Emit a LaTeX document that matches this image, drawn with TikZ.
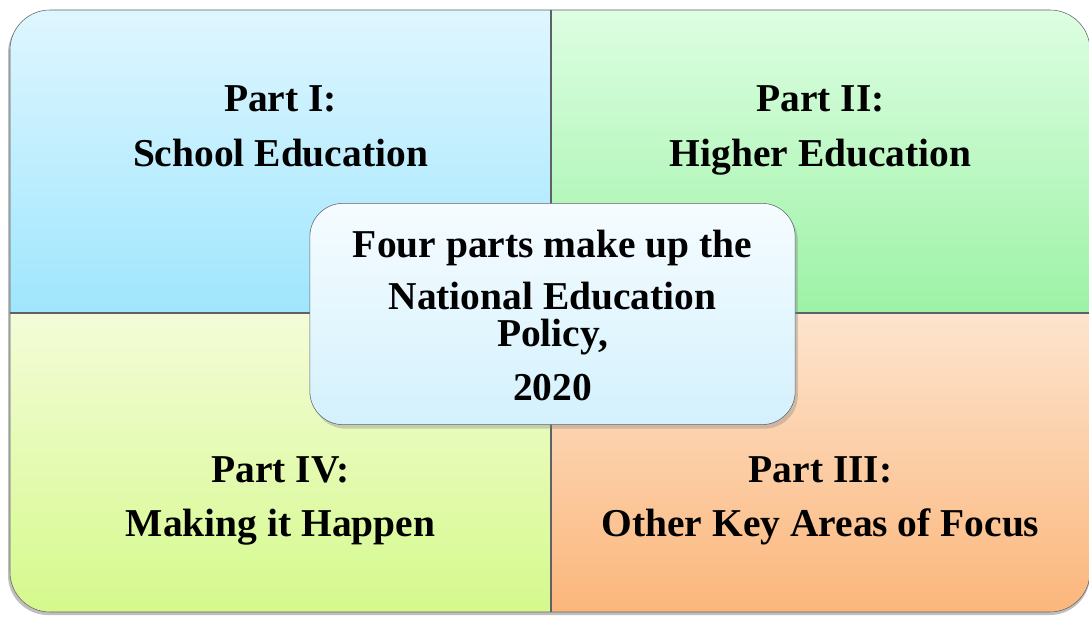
\documentclass[tikz,border=0pt]{standalone}
\usepackage{fontspec}
\setmainfont{Liberation Serif}
\usetikzlibrary{shadows}

\definecolor{schoolTop}{HTML}{DFF6FF}
\definecolor{schoolBot}{HTML}{9FE6FD}
\definecolor{higherTop}{HTML}{DDFEE2}
\definecolor{higherBot}{HTML}{9DF2A6}
\definecolor{makingTop}{HTML}{F4FCD8}
\definecolor{makingBot}{HTML}{D5F98C}
\definecolor{focusTop}{HTML}{FDE4CE}
\definecolor{focusBot}{HTML}{FBB67B}
\definecolor{policyTop}{HTML}{F6FCFF}
\definecolor{policyBot}{HTML}{D3F1FD}
\definecolor{edge}{HTML}{5E6266}

\begin{document}
\begin{tikzpicture}[
	x=0.75pt,
	y=-0.75pt,
	part/.style={
		align=center,
		text centered,
		font=\bfseries\fontsize{29.6}{41}\selectfont
	},
	policy/.style={
		rectangle,
		rounded corners=25pt,
		draw=edge,
		thin,
		top color=policyTop,
		bottom color=policyBot,
		drop shadow={shadow xshift=2pt,shadow yshift=-3pt,opacity=0.35},
		minimum width=364pt,
		minimum height=166pt,
		align=center,
		font=\bfseries\fontsize{29.6}{39}\selectfont
	},
	divider/.style={
		draw=edge,
		line width=1.1pt
	}
]
\useasboundingbox (0,0) rectangle (1089,617);

% Quadrants
\fill[black, opacity=0.25, rounded corners=30pt] (8,13) rectangle (1090,615);
\begin{scope}
	\clip[rounded corners=30pt] (10,10) rectangle (1090,612);
	\shade[top color=schoolTop, bottom color=schoolBot] (10,10) rectangle (551,313);
	\shade[top color=higherTop, bottom color=higherBot] (551,10) rectangle (1090,313);
	\shade[top color=makingTop, bottom color=makingBot] (10,313) rectangle (551,612);
	\shade[top color=focusTop, bottom color=focusBot] (551,313) rectangle (1090,612);
\end{scope}
\draw[draw=edge, thin, rounded corners=30pt] (10,10) rectangle (1090,612);

% Dividers
\coordinate (top mid) at (551,10);
\coordinate (bottom mid) at (551,612);
\coordinate (left mid) at (10,313);
\coordinate (right mid) at (1090,313);
\draw[divider] (top mid) -- (bottom mid);
\draw[divider] (left mid) -- (right mid);

% Parts
\node [part] (School) at (280.5,128) {\strut Part I:\\School Education\strut};
\node [part] (Higher) at (820.5,128) {\strut Part II:\\Higher Education\strut};
\node [part] (Making) at (280.5,498.5) {\strut Part IV:\\Making it Happen\strut};
\node [part] (Focus) at (820.5,498.5) {\strut Part III:\\Other Key Areas of Focus\strut};

% Centre
\node [policy] (NEP) at (552.5,314) {\rule{0pt}{34.2pt}Four parts make up the\\National Education\\[-11.5pt]Policy,\\[1.75pt]2020\strut};

\end{tikzpicture}
\end{document}
